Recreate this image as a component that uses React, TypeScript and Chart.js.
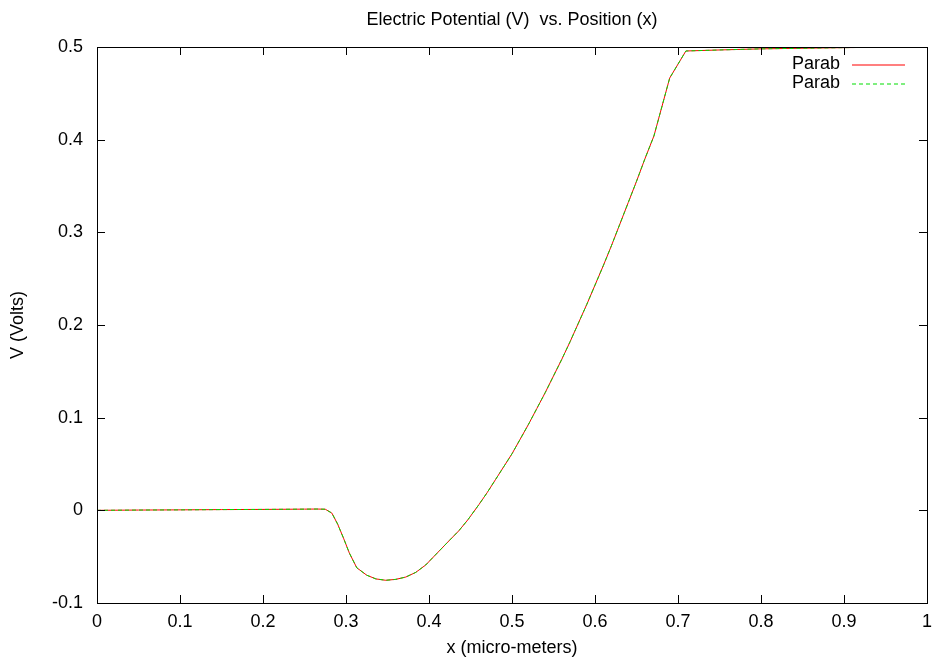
import React, { useEffect, useRef } from "react";
import { Chart, registerables } from "chart.js";

Chart.register(...registerables);

const titleText = "Electric Potential (V)  vs. Position (x)";
const xAxisTitle = "x (micro-meters)";
const yAxisTitle = "V (Volts)";
const legendLabels = ["Parab", "Parab"];

const positions = [
  0, 0.05, 0.1, 0.15, 0.2, 0.25, 0.265, 0.275, 0.283, 0.29, 0.297, 0.304, 0.313,
  0.325, 0.336, 0.348, 0.36, 0.372, 0.384, 0.396, 0.41, 0.424, 0.436, 0.447, 0.46,
  0.47, 0.48, 0.49, 0.5, 0.51, 0.52, 0.53, 0.54, 0.55, 0.56, 0.57, 0.58, 0.59, 0.6,
  0.61, 0.62, 0.63, 0.64, 0.65, 0.66, 0.671, 0.69, 0.7095, 0.75, 0.8, 0.9, 0.95, 1.0,
];

const potentialParabA = [
  0, 0.0003, 0.0005, 0.0008, 0.001, 0.0013, 0.0014, 0.0012, -0.003, -0.015, -0.03,
  -0.046, -0.062, -0.07, -0.074, -0.0755, -0.0745, -0.072, -0.067, -0.059, -0.046,
  -0.033, -0.022, -0.01, 0.006, 0.019, 0.033, 0.047, 0.061, 0.077, 0.093, 0.11,
  0.127, 0.145, 0.163, 0.182, 0.202, 0.222, 0.243, 0.264, 0.286, 0.309, 0.332,
  0.355, 0.379, 0.404, 0.4665, 0.4957, 0.4968, 0.498, 0.4993, 0.4998, 0.5,
];

const potentialParabB = [
  0, 0.0003, 0.0005, 0.0008, 0.001, 0.0013, 0.0014, 0.0012, -0.003, -0.015, -0.03,
  -0.046, -0.062, -0.07, -0.074, -0.0755, -0.0745, -0.072, -0.067, -0.059, -0.046,
  -0.033, -0.022, -0.01, 0.006, 0.019, 0.033, 0.047, 0.061, 0.077, 0.093, 0.11,
  0.127, 0.145, 0.163, 0.182, 0.202, 0.222, 0.243, 0.264, 0.286, 0.309, 0.332,
  0.355, 0.379, 0.404, 0.4665, 0.4957, 0.4968, 0.498, 0.4993, 0.4998, 0.5,
];

const xTickValues = [0, 0.1, 0.2, 0.3, 0.4, 0.5, 0.6, 0.7, 0.8, 0.9, 1];
const yTickValues = [-0.1, 0, 0.1, 0.2, 0.3, 0.4, 0.5];

const FONT = "'Liberation Sans', Arial, Helvetica, sans-serif";
const FS = 18;
const RED = "#ff0000";
const GREEN = "#00dd00";

const fmt = (v: number) => String(Number(v.toFixed(2)));

const framePlugin = {
  id: "gnuplotFrame",
  afterDatasetsDraw(chart: any) {
    const { ctx, chartArea } = chart;
    const { left, right, top, bottom } = chartArea;
    const xs = chart.scales.x;
    const ys = chart.scales.y;
    const tick = 8;
    ctx.save();
    ctx.strokeStyle = "#000";
    ctx.lineWidth = 1;
    ctx.beginPath();
    xs.ticks.forEach((t: any) => {
      const px = Math.round(xs.getPixelForValue(t.value)) + 0.5;
      if (t.value > xTickValues[0] && t.value < xTickValues[xTickValues.length - 1]) {
        ctx.moveTo(px, bottom);
        ctx.lineTo(px, bottom - tick);
        ctx.moveTo(px, top);
        ctx.lineTo(px, top + tick);
      }
    });
    ys.ticks.forEach((t: any) => {
      const py = Math.round(ys.getPixelForValue(t.value)) + 0.5;
      if (t.value > yTickValues[0] && t.value < yTickValues[yTickValues.length - 1]) {
        ctx.moveTo(left, py);
        ctx.lineTo(left + tick, py);
        ctx.moveTo(right, py);
        ctx.lineTo(right - tick, py);
      }
    });
    ctx.stroke();
    ctx.strokeRect(Math.round(left) + 0.5, Math.round(top) + 0.5, Math.round(right - left), Math.round(bottom - top));
    ctx.restore();
  },
  afterDraw(chart: any) {
    const { ctx, chartArea } = chart;
    ctx.save();
    ctx.font = `${FS}px ${FONT}`;
    ctx.textAlign = "right";
    ctx.textBaseline = "middle";
    chart.data.datasets.forEach((ds: any, i: number) => {
      const y = chartArea.top + 17.5 + i * 19;
      const textRight = chartArea.right - 87;
      ctx.fillStyle = "#000";
      ctx.fillText(ds.label, textRight, y);
      ctx.strokeStyle = ds.borderColor;
      ctx.lineWidth = 1.2;
      ctx.setLineDash(ds.borderDash || []);
      ctx.beginPath();
      ctx.moveTo(textRight + 12, Math.round(y));
      ctx.lineTo(textRight + 65, Math.round(y));
      ctx.stroke();
      ctx.setLineDash([]);
    });
    ctx.restore();
  },
};

export default function App() {
  const canvasRef = useRef<HTMLCanvasElement | null>(null);

  useEffect(() => {
    const canvas = canvasRef.current;
    if (!canvas) return;
    const chart = new Chart(canvas, {
      type: "line",
      data: {
        datasets: [
          {
            label: legendLabels[0],
            data: positions.map((x, i) => ({ x, y: potentialParabA[i] })),
            borderColor: RED,
            borderWidth: 1,
            pointRadius: 0,
            tension: 0,
            fill: false,
            order: 2,
          },
          {
            label: legendLabels[1],
            data: positions.map((x, i) => ({ x, y: potentialParabB[i] })),
            borderColor: GREEN,
            borderWidth: 1,
            borderDash: [4, 3],
            pointRadius: 0,
            tension: 0,
            fill: false,
            order: 1,
          },
        ],
      },
      options: {
        animation: false,
        responsive: false,
        maintainAspectRatio: false,
        layout: { padding: { left: 0, right: 10, top: 0, bottom: 0 } },
        plugins: {
          legend: { display: false },
          tooltip: { enabled: false },
          title: {
            display: true,
            fullSize: false,
            text: titleText,
            color: "#000",
            font: { family: FONT, size: FS, weight: "normal", lineHeight: 1.2 },
            padding: { top: 9, bottom: 16.4 },
          },
        },
        scales: {
          x: {
            type: "linear",
            min: xTickValues[0],
            max: xTickValues[xTickValues.length - 1],
            afterBuildTicks: (scale: any) => {
              scale.ticks = xTickValues.map((v) => ({ value: v }));
            },
            afterFit: (scale: any) => {
              scale.height = 62;
            },
            grid: { display: false, drawTicks: false },
            border: { display: false },
            ticks: {
              color: "#000",
              font: { family: FONT, size: FS },
              padding: 8,
              maxRotation: 0,
              autoSkip: false,
              callback: (v: any) => fmt(Number(v)),
            },
            title: {
              display: true,
              text: xAxisTitle,
              color: "#000",
              font: { family: FONT, size: FS, lineHeight: 1.2 },
              padding: { top: 0, bottom: 6 },
            },
          },
          y: {
            type: "linear",
            min: yTickValues[0],
            max: yTickValues[yTickValues.length - 1],
            afterBuildTicks: (scale: any) => {
              scale.ticks = yTickValues.map((v) => ({ value: v }));
            },
            afterFit: (scale: any) => {
              scale.width = 97;
            },
            grid: { display: false, drawTicks: false },
            border: { display: false },
            ticks: {
              color: "#000",
              font: { family: FONT, size: FS },
              padding: 14,
              autoSkip: false,
              callback: (v: any) => fmt(Number(v)),
            },
            title: {
              display: true,
              text: yAxisTitle,
              color: "#000",
              font: { family: FONT, size: FS, lineHeight: 1.2 },
              padding: { top: 7, bottom: 0 },
            },
          },
        },
      },
      plugins: [framePlugin],
    });
    return () => chart.destroy();
  }, []);

  return (
    <div style={{ position: "absolute", left: 0, top: 0, width: 940, height: 665, background: "#fff" }}>
      <canvas ref={canvasRef} width={940} height={665} style={{ width: 940, height: 665, display: "block" }} />
    </div>
  );
}
